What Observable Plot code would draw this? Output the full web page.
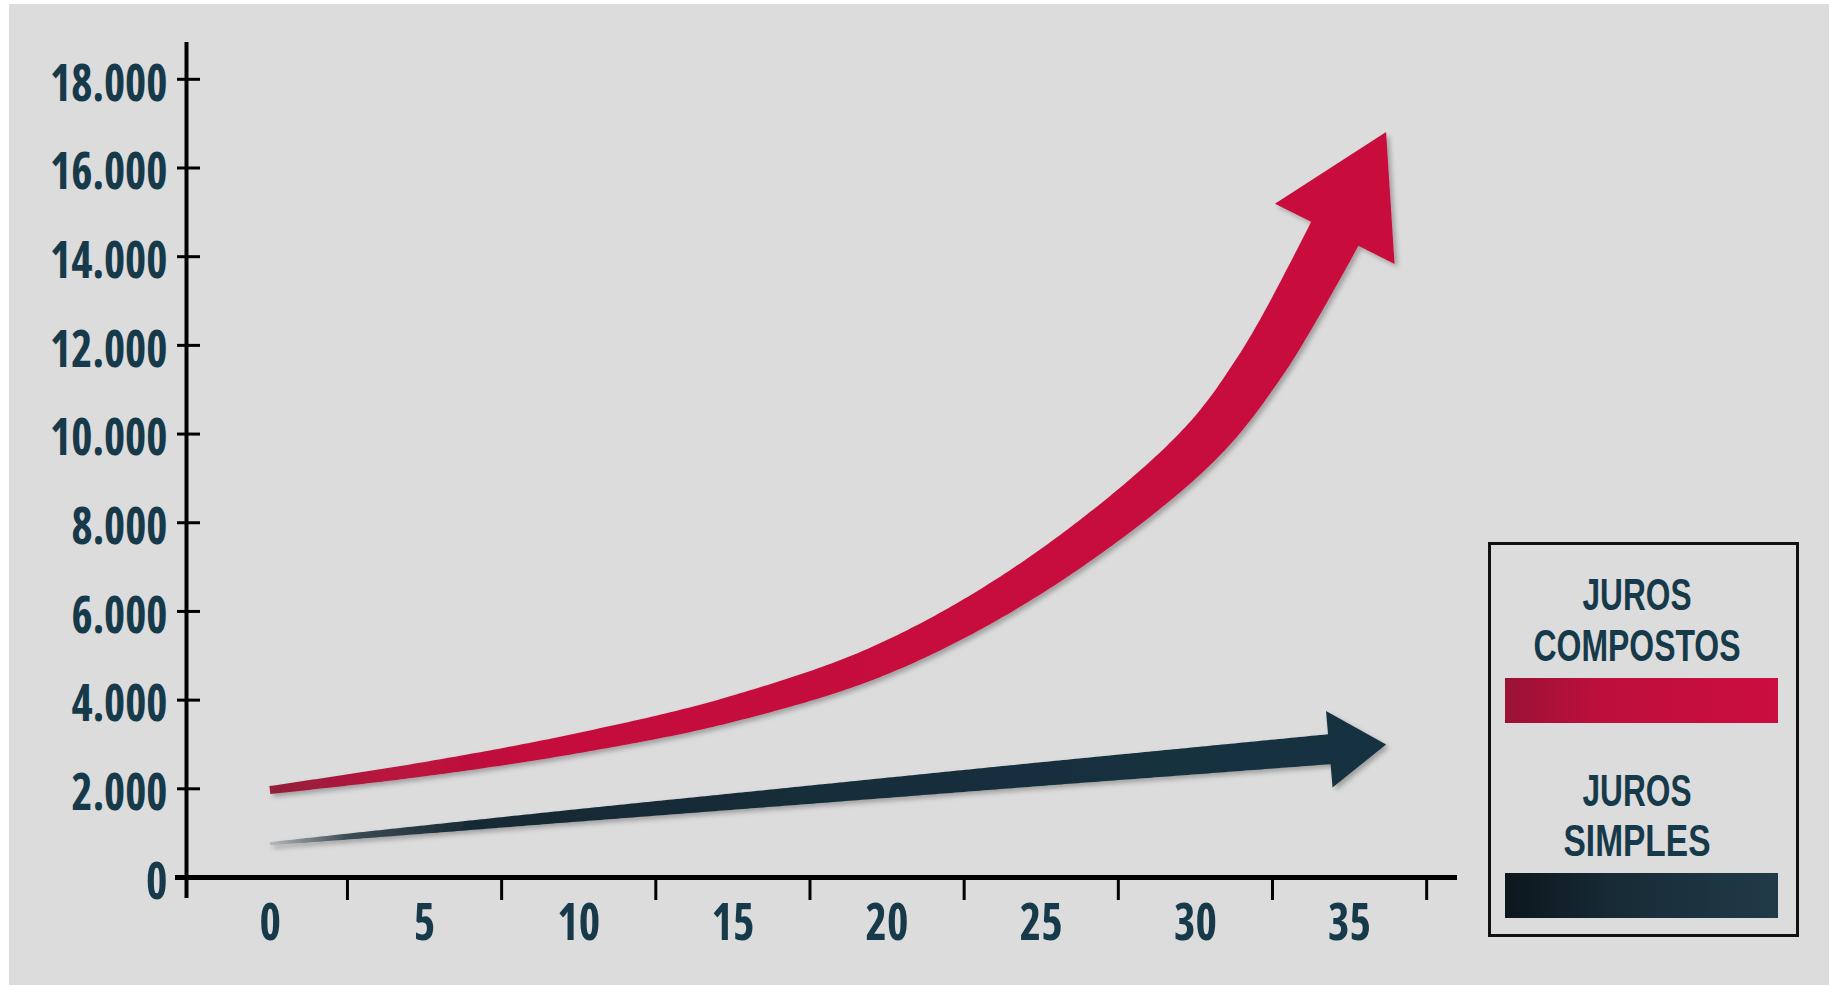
<!DOCTYPE html>
<html>
<head>
<meta charset="utf-8">
<script src="https://cdn.jsdelivr.net/npm/d3@7"></script>
<script src="https://cdn.jsdelivr.net/npm/@observablehq/plot@0.6"></script>
<style>
  html, body { margin: 0; padding: 0; background: #ffffff; }
  #wrap { position: relative; width: 1829px; height: 985px; overflow: hidden; background: #ffffff; }
  #chart { position: absolute; left: 9px; top: 4px; }
  #legend { position: absolute; left: 1468px; top: 542px; overflow: visible; }
</style>
</head>
<body>
<div id="wrap">
  <div id="chart"></div>
  <svg id="legend" width="351" height="395"></svg>
</div>
<script>
// ---------------- data ----------------
const years      = [0, 5, 10, 15, 20, 25, 30, 32, 34, 36.2];
const compound   = [1960, 2430, 3020, 3790, 4950, 6880, 9650, 11400, 13800, 16800]; // juros compostos
const simple     = [750, 1070, 1390, 1700, 2010, 2320, 2620, 2740, 2860, 2990];      // juros simples
const xLabels    = [0, 5, 10, 15, 20, 25, 30, 35];
const xTickMarks = [2.5, 7.5, 12.5, 17.5, 22.5, 27.5, 32.5, 37.5];
const yTicks     = [0, 2000, 4000, 6000, 8000, 10000, 12000, 14000, 16000, 18000];
const legendLines = [["JUROS", "COMPOSTOS"], ["JUROS", "SIMPLES"]];

// ---------------- layout & style ----------------
const W = 1820, H = 981, mL = 177, mR = 372, mT = 38, mB = 108;
const xDomain = [-2.72, 38.5], yDomain = [0, 18830];
const kx = (W - mL - mR) / (xDomain[1] - xDomain[0]);
const ky = (H - mT - mB) / (yDomain[1] - yDomain[0]);
const ink = "#173a4a";
const fmt = d3.formatLocale({decimal: ",", thousands: ".", grouping: [3], currency: ["R$", ""]}).format(",d");

const NS = "http://www.w3.org/2000/svg";
const scratch = document.createElementNS(NS, "svg");
scratch.setAttribute("style", "position:absolute;left:-9999px;top:0;width:10px;height:10px");
document.body.appendChild(scratch);

// pick a condensed bold face among the installed ones
const fontChoice = (() => {
  const cands = [
    ["Liberation Sans Narrow", "normal"],
    ["Open Sans", "75%"],
    ["Noto Sans", "62.5%"],
    ["Roboto", "75%"],
    ["DejaVu Sans Condensed", "normal"],
    ["DejaVu Sans", "condensed"]
  ];
  const t = document.createElementNS(NS, "text");
  t.setAttribute("font-size", 100);
  t.setAttribute("font-weight", "bold");
  t.textContent = "COMPOSTOS 18.000";
  scratch.appendChild(t);
  const w = (fam, st) => { t.setAttribute("font-family", fam); t.style.fontStretch = st; return t.getComputedTextLength(); };
  let pick = {family: "'Liberation Sans', Arial, sans-serif", stretch: "normal"};
  for (const [fam, st] of cands) {
    const a = w(`'${fam}', monospace`, "normal"), b = w(`'${fam}', serif`, "normal");
    if (Math.abs(a - b) > 0.5) continue;
    const n = w(`'${fam}'`, "normal"), c = w(`'${fam}'`, st);
    if (st === "normal" || c < n * 0.92) { pick = {family: `'${fam}', 'Liberation Sans', sans-serif`, stretch: st}; break; }
  }
  scratch.removeChild(t);
  return pick;
})();
const font = fontChoice.family;
const legendFontFamily = "'Liberation Sans', Arial, sans-serif"; // compact line box for the tight two-line labels

function arrowMark(xs, ys, o) {
  return function (...args) {
    const sc = args.find(a => a && typeof a.x === "function" && typeof a.y === "function");
    const pts = xs.map((t, i) => [sc.x(t), sc.y(ys[i])]);
    const p = document.createElementNS(NS, "path");
    p.setAttribute("d", d3.line().curve(d3.curveCatmullRom.alpha(0.5))(pts));
    scratch.appendChild(p);
    const L = p.getTotalLength();
    const at = s => p.getPointAtLength(Math.max(0, Math.min(L, s)));
    const tip = at(L);
    let sb = L - o.headLen;
    for (let k = 0; k < 30; k++) {
      const q = at(sb);
      const d = Math.hypot(tip.x - q.x, tip.y - q.y);
      sb += d - o.headLen;
    }
    const base = at(sb);
    let dx = tip.x - base.x, dy = tip.y - base.y;
    const dl = Math.hypot(dx, dy); dx /= dl; dy /= dl;
    const N = 260, A = [], B = [];
    for (let i = 0; i <= N; i++) {
      const s = sb * i / N;
      const q = at(s);
      let tx, ty;
      if (i === N) { tx = dx; ty = dy; }
      else {
        const a = at(s - 1.5), b = at(s + 1.5);
        tx = b.x - a.x; ty = b.y - a.y;
        const l = Math.hypot(tx, ty) || 1; tx /= l; ty /= l;
      }
      const hw = (o.w0 + (o.w1 - o.w0) * Math.pow(s / sb, o.pow || 1)) / 2;
      A.push([q.x - ty * hw, q.y + tx * hw]);
      B.push([q.x + ty * hw, q.y - tx * hw]);
    }
    const nx = -dy, ny = dx, hh = o.headWidth / 2;
    const poly = [...A,
      [base.x + nx * hh, base.y + ny * hh],
      [tip.x, tip.y],
      [base.x - nx * hh, base.y - ny * hh],
      ...B.reverse()];
    scratch.removeChild(p);
    const g = d3.create("svg:g");
    const defs = g.append("defs");
    const grad = defs.append("linearGradient").attr("id", o.id + "-g")
      .attr("gradientUnits", "userSpaceOnUse")
      .attr("x1", pts[0][0]).attr("y1", 0).attr("x2", tip.x).attr("y2", 0);
    o.stops.forEach(([off, c]) => grad.append("stop").attr("offset", off).attr("stop-color", c));
    const f = defs.append("filter").attr("id", o.id + "-f")
      .attr("x", "-10%").attr("y", "-10%").attr("width", "130%").attr("height", "130%");
    f.append("feDropShadow").attr("dx", 3).attr("dy", 3).attr("stdDeviation", 2.5)
      .attr("flood-color", "#000").attr("flood-opacity", 0.28);
    g.append("path")
      .attr("d", "M" + poly.map(q => q[0].toFixed(2) + "," + q[1].toFixed(2)).join("L") + "Z")
      .attr("fill", `url(#${o.id}-g)`)
      .attr("filter", `url(#${o.id}-f)`);
    return g.node();
  };
}

const plot = Plot.plot({
  width: W, height: H,
  marginLeft: mL, marginRight: mR, marginTop: mT, marginBottom: mB,
  x: {domain: xDomain, axis: null},
  y: {domain: yDomain, axis: null},
  style: {background: "#dcdcdc", overflow: "visible", fontStretch: fontChoice.stretch},
  marks: [
    arrowMark(years, simple, {
      id: "simples", w0: 3, w1: 30, pow: 0.85, headLen: 57, headWidth: 77,
      stops: [[0, "#b3b8bb"], [0.07, "#3e4b53"], [0.18, "#172a35"], [1, "#193241"]]
    }),
    arrowMark(years, compound, {
      id: "compostos", w0: 8, w1: 53, pow: 0.95, headLen: 114, headWidth: 134,
      stops: [[0, "#92203a"], [0.1, "#b8133d"], [0.25, "#c40f3d"], [1, "#c8103e"]]
    }),
    Plot.ruleY([0], {x1: xDomain[0] - 11 / kx, x2: xDomain[1], stroke: "#000", strokeWidth: 5}),
    Plot.ruleX([xDomain[0]], {y1: -21 / ky, y2: yDomain[1], stroke: "#000", strokeWidth: 4}),
    Plot.ruleY(yTicks, {x1: xDomain[0] - 9 / kx, x2: xDomain[0] + 14 / kx, stroke: "#000", strokeWidth: 3}),
    Plot.ruleX(xTickMarks, {y1: 0, y2: -23 / ky, stroke: "#000", strokeWidth: 3}),
    Plot.text(yTicks, {
      x: xDomain[0], y: d => d, text: d => fmt(d), textAnchor: "end", dx: -19, dy: 5,
      fontSize: 51, fontWeight: "bold", fill: ink, fontFamily: font
    }),
    Plot.text(xLabels, {
      x: d => d, y: 0, text: d => String(d), dy: 46,
      fontSize: 51, fontWeight: "bold", fill: ink, fontFamily: font
    })
  ]
});
document.getElementById("chart").appendChild(plot);

// condense the numeric labels to the width of the original lettering
plot.querySelectorAll("text").forEach(t => {
  const s = t.textContent;
  if (!/^[\d.]+$/.test(s)) return;
  const nd = (s.match(/\d/g) || []).length, np = (s.match(/\./g) || []).length;
  t.setAttribute("textLength", nd * 21.5 + np * 10);
  t.setAttribute("lengthAdjust", "spacingAndGlyphs");
  t.style.fontStretch = fontChoice.stretch;
});

// ---------------- legend ----------------
const lg = d3.select("#legend").append("g").attr("transform", "translate(20,0)");
const ldefs = lg.append("defs");
const lgRed = ldefs.append("linearGradient").attr("id", "lg-red");
lgRed.append("stop").attr("offset", 0).attr("stop-color", "#9a1236");
lgRed.append("stop").attr("offset", 0.35).attr("stop-color", "#bd0f3c");
lgRed.append("stop").attr("offset", 1).attr("stop-color", "#cb0d40");
const lgDark = ldefs.append("linearGradient").attr("id", "lg-dark");
lgDark.append("stop").attr("offset", 0).attr("stop-color", "#0c161d");
lgDark.append("stop").attr("offset", 0.4).attr("stop-color", "#172b36");
lgDark.append("stop").attr("offset", 1).attr("stop-color", "#213a48");
lg.append("rect").attr("x", 1.5).attr("y", 1.5).attr("width", 308).attr("height", 392)
  .attr("fill", "none").attr("stroke", "#111").attr("stroke-width", 3);
const legendBaselines = [[68, 118.5], [264, 314]];
const legendWidths = {"JUROS": 109, "COMPOSTOS": 207, "SIMPLES": 147};
legendLines.forEach((lines, i) => {
  lines.forEach((txt, j) => {
    lg.append("text").attr("x", 149).attr("y", legendBaselines[i][j])
      .attr("text-anchor", "middle").attr("font-family", legendFontFamily).attr("font-weight", "bold")
      .attr("font-size", 44).attr("fill", ink)
      .attr("textLength", legendWidths[txt]).attr("lengthAdjust", "spacingAndGlyphs")
      .text(txt);
  });
});
lg.append("rect").attr("x", 17).attr("y", 136).attr("width", 273).attr("height", 45).attr("fill", "url(#lg-red)");
lg.append("rect").attr("x", 17).attr("y", 331).attr("width", 273).attr("height", 45).attr("fill", "url(#lg-dark)");
</script>
</body>
</html>
